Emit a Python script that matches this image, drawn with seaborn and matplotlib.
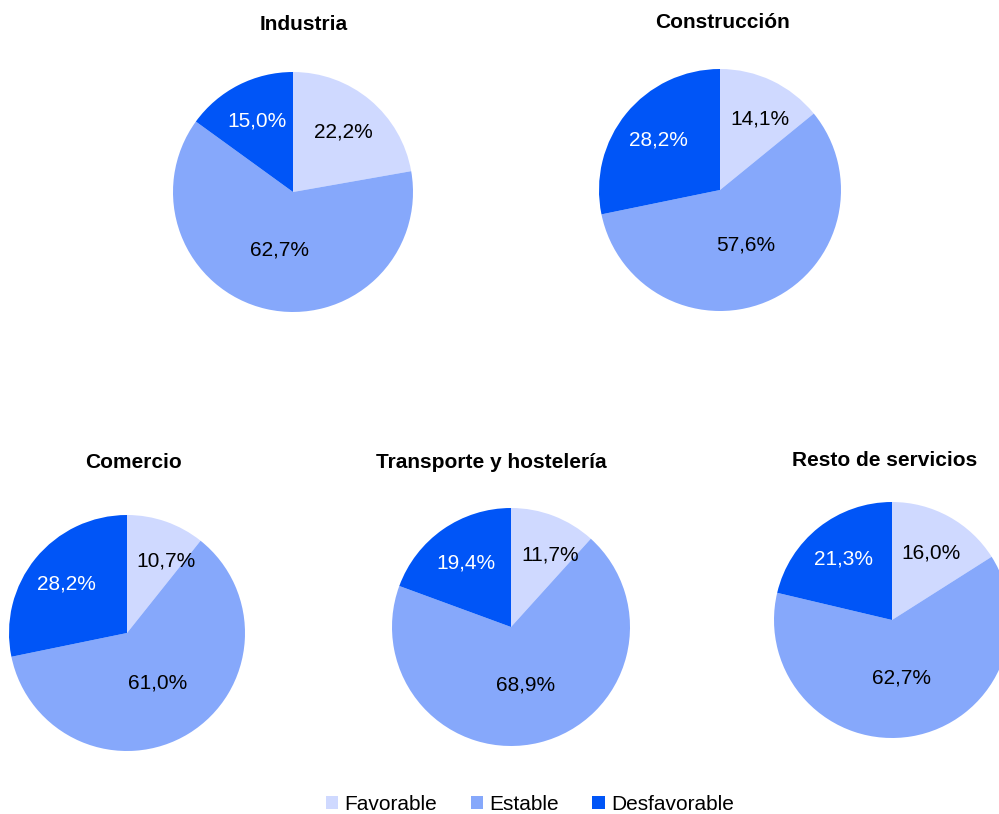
import numpy as np
import matplotlib.pyplot as plt
import seaborn as sns
from matplotlib.patches import Patch

sectores = ["Industria", "Construcción", "Comercio", "Transporte y hostelería", "Resto de servicios"]
categorias = ["Favorable", "Estable", "Desfavorable"]
favorable = [22.2, 14.1, 10.7, 11.7, 16.0]
estable = [62.7, 57.6, 61.0, 68.9, 62.7]
desfavorable = [15.0, 28.2, 28.2, 19.4, 21.3]

colores = ["#CFD9FF", "#86A8FB", "#0055F7"]
color_texto = ["black", "black", "white"]
dist_etiqueta = [0.65, 0.5, 0.66]

sns.set_theme(style="white")
plt.rcParams["font.family"] = ["Liberation Sans", "DejaVu Sans"]

W, H = 999, 814
fig = plt.figure(figsize=(W / 100, H / 100), dpi=100)

# (centro x, centro y, radio, centro x del titulo, y del titulo) en pixeles
layout = [
    (293, 192, 120, 304, 25),
    (720, 190, 121, 723, 22),
    (127, 633, 118, 133, 463),
    (511, 627, 119, 491, 463),
    (892, 620, 118, 885, 460),
]

for i, (cx, cy, r, tx, ty) in enumerate(layout):
    ax = fig.add_axes([(cx - r) / W, (H - cy - r) / H, 2 * r / W, 2 * r / H])
    valores = [favorable[i], estable[i], desfavorable[i]]
    wedges, _ = ax.pie(valores, colors=colores, startangle=90, counterclock=False,
                       wedgeprops=dict(linewidth=0))
    for k, (w, v, c, d) in enumerate(zip(wedges, valores, color_texto, dist_etiqueta)):
        ang = np.deg2rad((w.theta1 + w.theta2) / 2)
        x, y = d * np.cos(ang), d * np.sin(ang)
        if k == 0:
            # que la etiqueta no pise el radio vertical en sectores estrechos
            x = max(x, 0.33)
        ax.text(x, y, f"{v:.1f}".replace(".", ",") + "%",
                ha="center", va="center", fontsize=15, color=c)
    ax.set_xlim(-1, 1)
    ax.set_ylim(-1, 1)
    ax.set_aspect("equal")
    ax.axis("off")
    fig.text(tx / W, 1 - ty / H, sectores[i], ha="center", va="center",
             fontsize=15, fontweight="bold", color="black")

handles = [Patch(facecolor=c, edgecolor="none") for c in colores]
leg = fig.legend(handles, categorias, loc="center", bbox_to_anchor=(530 / W, 1 - 804 / H),
                 ncol=3, frameon=False, fontsize=15, handlelength=0.6, handleheight=0.6,
                 handletextpad=0.3, columnspacing=1.6)
for t in leg.get_texts():
    t.set_color("black")

fig.savefig("out.png", dpi=100)
